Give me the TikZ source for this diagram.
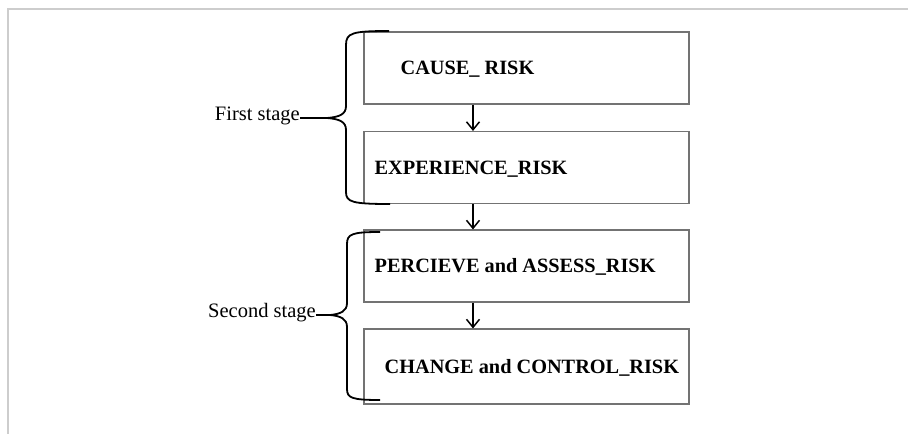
\documentclass[tikz,border=0pt]{standalone}
\usepackage{fontspec}
\setmainfont{Liberation Serif}
\usetikzlibrary{positioning}
\usetikzlibrary{arrows.meta}
\definecolor{figMarco}{RGB}{205,205,205}
\definecolor{figCaja}{RGB}{115,115,115}
\tikzset{
  caja/.style={
    rectangle, draw=figCaja, line width=1.1pt,
    minimum width=325pt, minimum height=72pt, inner sep=0pt
  },
  rotulo/.style={
    font=\fontsize{20.3}{22}\selectfont\bfseries, inner sep=0pt,
    anchor=west, text height=13.5pt, text depth=0pt
  },
  etapa/.style={
    font=\fontsize{20.5}{22}\selectfont, inner sep=0pt, anchor=mid east
  },
  llave/.style={line width=1.8pt, draw=black},
  flecha/.style={-{Straight Barb[length=8pt,width=13pt,line width=1.5pt]}, line width=1.5pt},
  marco/.style={line width=1.4pt, draw=figMarco}
}
\begin{document}
\begin{tikzpicture}[x=1pt, y=-1pt]
  \useasboundingbox (0,0) rectangle (908,434);
  \draw[marco] (908,9) -- (8,9) -- (8,434);

  % cajas
  \node[caja] (causa) at (526.5,68) {};
  \node[caja] (expe) at (526.5,167.5) {};
  \node[caja] (perc) at (526.5,266) {};
  \node[caja, minimum height=75pt] (camb) at (526.5,366.5) {};

  \node[rotulo, right=37pt of causa.west] (tcausa) {CAUSE\_ RISK};
  \node[rotulo, right=11pt of expe.west] (texpe) {EXPERIENCE\_RISK};
  \node[rotulo, right=11pt of perc.west] (tperc) {PERCIEVE and ASSESS\_RISK};
  \node[rotulo, right=21pt of camb.west] (tcamb) {CHANGE and CONTROL\_RISK};

  \draw[flecha] ([xshift=-53.5pt]causa.south) -- ([xshift=-53.5pt]expe.north);
  \draw[flecha] ([xshift=-53.5pt]expe.south) -- ([xshift=-53.5pt]perc.north);
  \draw[flecha] ([xshift=-53.5pt]perc.south) -- ([xshift=-53.5pt]camb.north);

  % etapas
  \node[etapa] (primera) at (300,118) {First stage};
  \node[etapa] (segunda) at (316,315) {Second stage};
  \coordinate (pico1) at (327,118);
  \coordinate (pico2) at (330,315);

  \draw[llave] (389,31) .. controls (352,31) and (346,33) .. (346,45) -- (346,106)
    .. controls (346,114) and (340,117) .. (pico1) -- (primera.mid east);
  \draw[llave] (pico1) .. controls (340,119) and (346,122) .. (346,130)
    -- (346,192) .. controls (346,202) and (352,204) .. (390,204);

  \draw[llave] (380,232) .. controls (352,232) and (347,234) .. (347,244) -- (347,303)
    .. controls (347,311) and (341,314) .. (pico2) -- (segunda.mid east);
  \draw[llave] (pico2) .. controls (341,316) and (347,319) .. (347,327)
    -- (347,389) .. controls (347,398) and (352,400) .. (380,400);
\end{tikzpicture}
\end{document}
